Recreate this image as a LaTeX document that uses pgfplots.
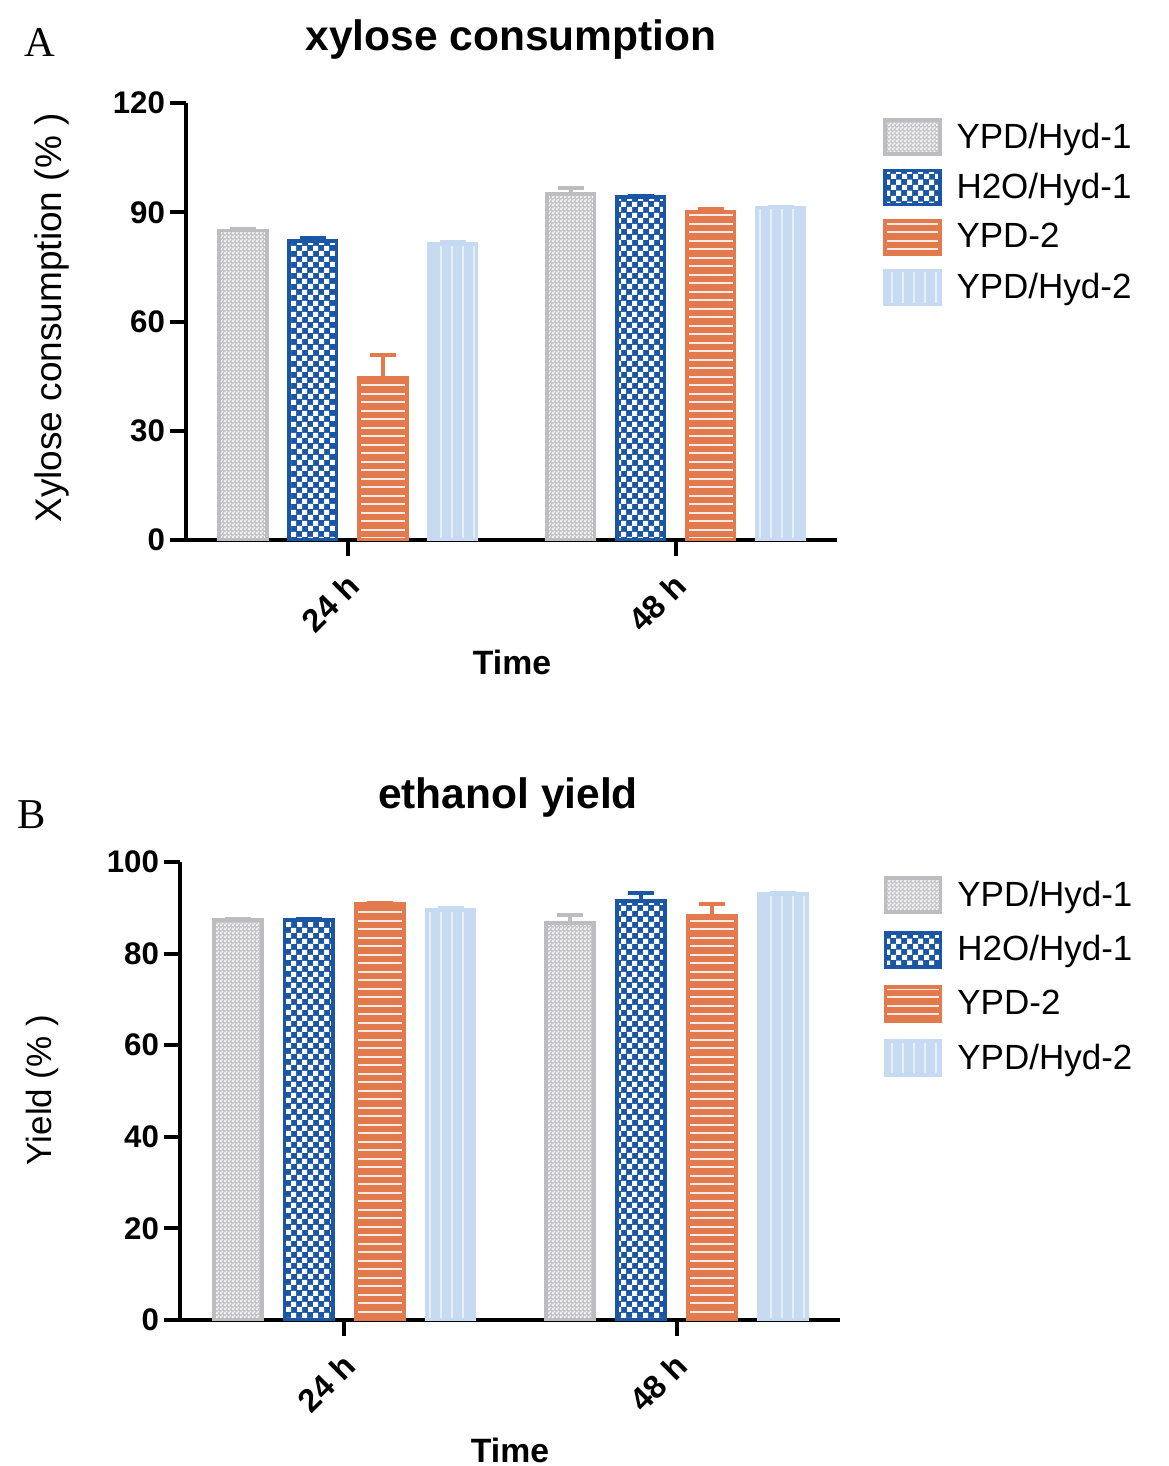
\documentclass[border=0pt]{standalone}
\usepackage{pgfplots}
\pgfplotsset{compat=1.18}
\usepackage{pgfplotstable}
\usetikzlibrary{patterns}
\usepackage{fontspec}
\setmainfont{Liberation Sans}
\newfontfamily\serifA{Liberation Serif}

\definecolor{cgray}{HTML}{BCBCC1}
\definecolor{cgrayfill}{HTML}{C4C4C9}
\definecolor{cblue}{HTML}{1B56A4}
\definecolor{corange}{HTML}{E27A4E}
\definecolor{clblue}{HTML}{C6DBF1}
\definecolor{clbline}{HTML}{E6EFF9}

% patterns
\pgfdeclarepatternformonly{finecheck}{\pgfpointorigin}{\pgfpoint{1.6pt}{1.6pt}}{\pgfpoint{1.6pt}{1.6pt}}{%
  \pgfpathrectangle{\pgfpointorigin}{\pgfpoint{0.8pt}{0.8pt}}%
  \pgfpathrectangle{\pgfpoint{0.8pt}{0.8pt}}{\pgfpoint{0.8pt}{0.8pt}}%
  \pgfusepath{fill}}
\pgfdeclarepatternformonly{bigcheck}{\pgfpointorigin}{\pgfpoint{4.4pt}{4.4pt}}{\pgfpoint{4.4pt}{4.4pt}}{%
  \pgfpathrectangle{\pgfpointorigin}{\pgfpoint{2.2pt}{2.2pt}}%
  \pgfpathrectangle{\pgfpoint{2.2pt}{2.2pt}}{\pgfpoint{2.2pt}{2.2pt}}%
  \pgfusepath{fill}}
\pgfdeclarepatternformonly{hlines}{\pgfpoint{-0.5pt}{-0.5pt}}{\pgfpoint{3.9pt}{3.9pt}}{\pgfpoint{3.4pt}{3.4pt}}{%
  \pgfpathrectangle{\pgfpoint{-0.3pt}{0pt}}{\pgfpoint{4pt}{0.8pt}}%
  \pgfusepath{fill}}
\pgfdeclarepatternformonly{vlines}{\pgfpoint{-0.5pt}{-0.5pt}}{\pgfpoint{4.9pt}{4.9pt}}{\pgfpoint{4.4pt}{4.4pt}}{%
  \pgfpathrectangle{\pgfpoint{0pt}{-0.3pt}}{\pgfpoint{0.6pt}{5pt}}%
  \pgfusepath{fill}}

\pgfplotsset{
  barleg/.style={legend image code/.code={\draw[##1] (0pt,-6.8pt) rectangle (22pt,6.8pt);}},
  errbar/.style={forget plot, draw=none, mark=none,
    error bars/.cd, y dir=plus, y explicit,
    error bar style={line width=1.5pt, draw=#1, solid},
    error mark options={line width=1.5pt, mark size=5.2pt, draw=#1, solid, rotate=90}},
  sGray/.style={ybar, bar width=0.145, bar shift=-0.32, draw=cgray, line width=1.5pt,
    preaction={fill=cgrayfill}, pattern=finecheck, pattern color=white, barleg},
  sBlue/.style={ybar, bar width=0.145, bar shift=-0.107, draw=cblue, line width=1.5pt,
    preaction={fill=cblue}, pattern=bigcheck, pattern color=white, barleg},
  sOrange/.style={ybar, bar width=0.145, bar shift=0.107, draw=corange, line width=1.5pt,
    preaction={fill=corange}, pattern=hlines, pattern color=white!85!corange, barleg},
  sLBlue/.style={ybar, bar width=0.145, bar shift=0.32, draw=clblue, line width=1.5pt,
    preaction={fill=clblue}, pattern=vlines, pattern color=clbline, barleg},
  panel/.style={
    scale only axis,
    axis x line*=bottom, axis y line*=left,
    axis line style={line width=1.6pt},
    xmin=-0.494, xmax=1.492, ymin=0,
    xtick={0,1}, xticklabels={24 h,48 h},
    tick align=outside, major tick length=6.4pt,
    tick style={line width=1.6pt, black},
    /pgf/number format/assume math mode=true,
    yticklabel style={font=\bfseries\fontsize{12.5}{14}\selectfont, xshift=1.5pt},
    xticklabel style={font=\bfseries\fontsize{13}{15}\selectfont,
      xshift=4.5pt, yshift=-7pt, rotate=45, anchor=east},
    legend cell align=left,
    legend style={draw=none, fill=none, anchor=north west,
      font=\fontsize{14}{16}\selectfont,
      /tikz/every odd column/.append style={column sep=4pt}},
  },
}

\pgfplotstableread{
x gray gerr blue berr orange oerr lb lerr
0 85.0 0.3 82.2 0.8 44.6 6.2 81.2 0.8
1 95.0 1.6 94.1 0.3 90.0 0.9 91.3 0.3
}\dataA
\pgfplotstableread{
x gray gerr blue berr orange oerr lb lerr
0 87.3 0.3 87.3 0.2 90.8 0.2 89.5 0.5
1 86.7 1.75 91.5 1.75 88.2 2.6 93.0 0.3
}\dataB

\begin{document}
\begin{tikzpicture}
\path[use as bounding box] (0,0) rectangle (467.6pt,-586.4pt);

% panel A
\node[font=\serifA\fontsize{17}{19}\selectfont] at (16pt,-16.8pt) {A};
\node[font=\bfseries\fontsize{17}{19}\selectfont] at (204.4pt,-16pt) {xylose consumption};
\node[rotate=90, font=\fontsize{14.8}{17}\selectfont] at (20.8pt,-127.2pt) {Xylose consumption (\% )};
\node[font=\bfseries\fontsize{13.5}{15}\selectfont] at (204.8pt,-264.8pt) {Time};
\begin{axis}[panel, at={(74.4pt,-216pt)}, anchor=south west,
    width=260.4pt, height=174.8pt, ymax=120, ytick={0,30,60,90,120},
    legend style={at={(1.058,0.979)}, row sep=4.5pt}]
\addplot[sGray] table[x=x, y=gray] {\dataA};
\addplot[sBlue] table[x=x, y=blue] {\dataA};
\addplot[sOrange] table[x=x, y=orange] {\dataA};
\addplot[sLBlue] table[x=x, y=lb] {\dataA};
\legend{YPD/Hyd-1, H2O/Hyd-1, YPD-2, YPD/Hyd-2}
\addplot[errbar=cgray] table[x expr=\thisrow{x}-0.32, y=gray, y error=gerr] {\dataA};
\addplot[errbar=cblue] table[x expr=\thisrow{x}-0.107, y=blue, y error=berr] {\dataA};
\addplot[errbar=corange] table[x expr=\thisrow{x}+0.107, y=orange, y error=oerr] {\dataA};
\addplot[errbar=clblue] table[x expr=\thisrow{x}+0.32, y=lb, y error=lerr] {\dataA};
\end{axis}

% panel B
\node[font=\serifA\fontsize{17}{19}\selectfont] at (12.8pt,-326pt) {B};
\node[font=\bfseries\fontsize{17}{19}\selectfont] at (203.2pt,-319.2pt) {ethanol yield};
\node[rotate=90, font=\fontsize{14}{16}\selectfont] at (16.8pt,-436pt) {Yield (\% )};
\node[font=\bfseries\fontsize{13.5}{15}\selectfont] at (204pt,-580pt) {Time};
\begin{axis}[panel, at={(72pt,-528pt)}, anchor=south west,
    width=264pt, height=183.2pt, ymax=100, ytick={0,20,40,60,80,100},
    legend style={at={(1.054,0.982)}, row sep=6.2pt}]
\addplot[sGray] table[x=x, y=gray] {\dataB};
\addplot[sBlue] table[x=x, y=blue] {\dataB};
\addplot[sOrange] table[x=x, y=orange] {\dataB};
\addplot[sLBlue] table[x=x, y=lb] {\dataB};
\legend{YPD/Hyd-1, H2O/Hyd-1, YPD-2, YPD/Hyd-2}
\addplot[errbar=cgray] table[x expr=\thisrow{x}-0.32, y=gray, y error=gerr] {\dataB};
\addplot[errbar=cblue] table[x expr=\thisrow{x}-0.107, y=blue, y error=berr] {\dataB};
\addplot[errbar=corange] table[x expr=\thisrow{x}+0.107, y=orange, y error=oerr] {\dataB};
\addplot[errbar=clblue] table[x expr=\thisrow{x}+0.32, y=lb, y error=lerr] {\dataB};
\end{axis}
\end{tikzpicture}
\end{document}
